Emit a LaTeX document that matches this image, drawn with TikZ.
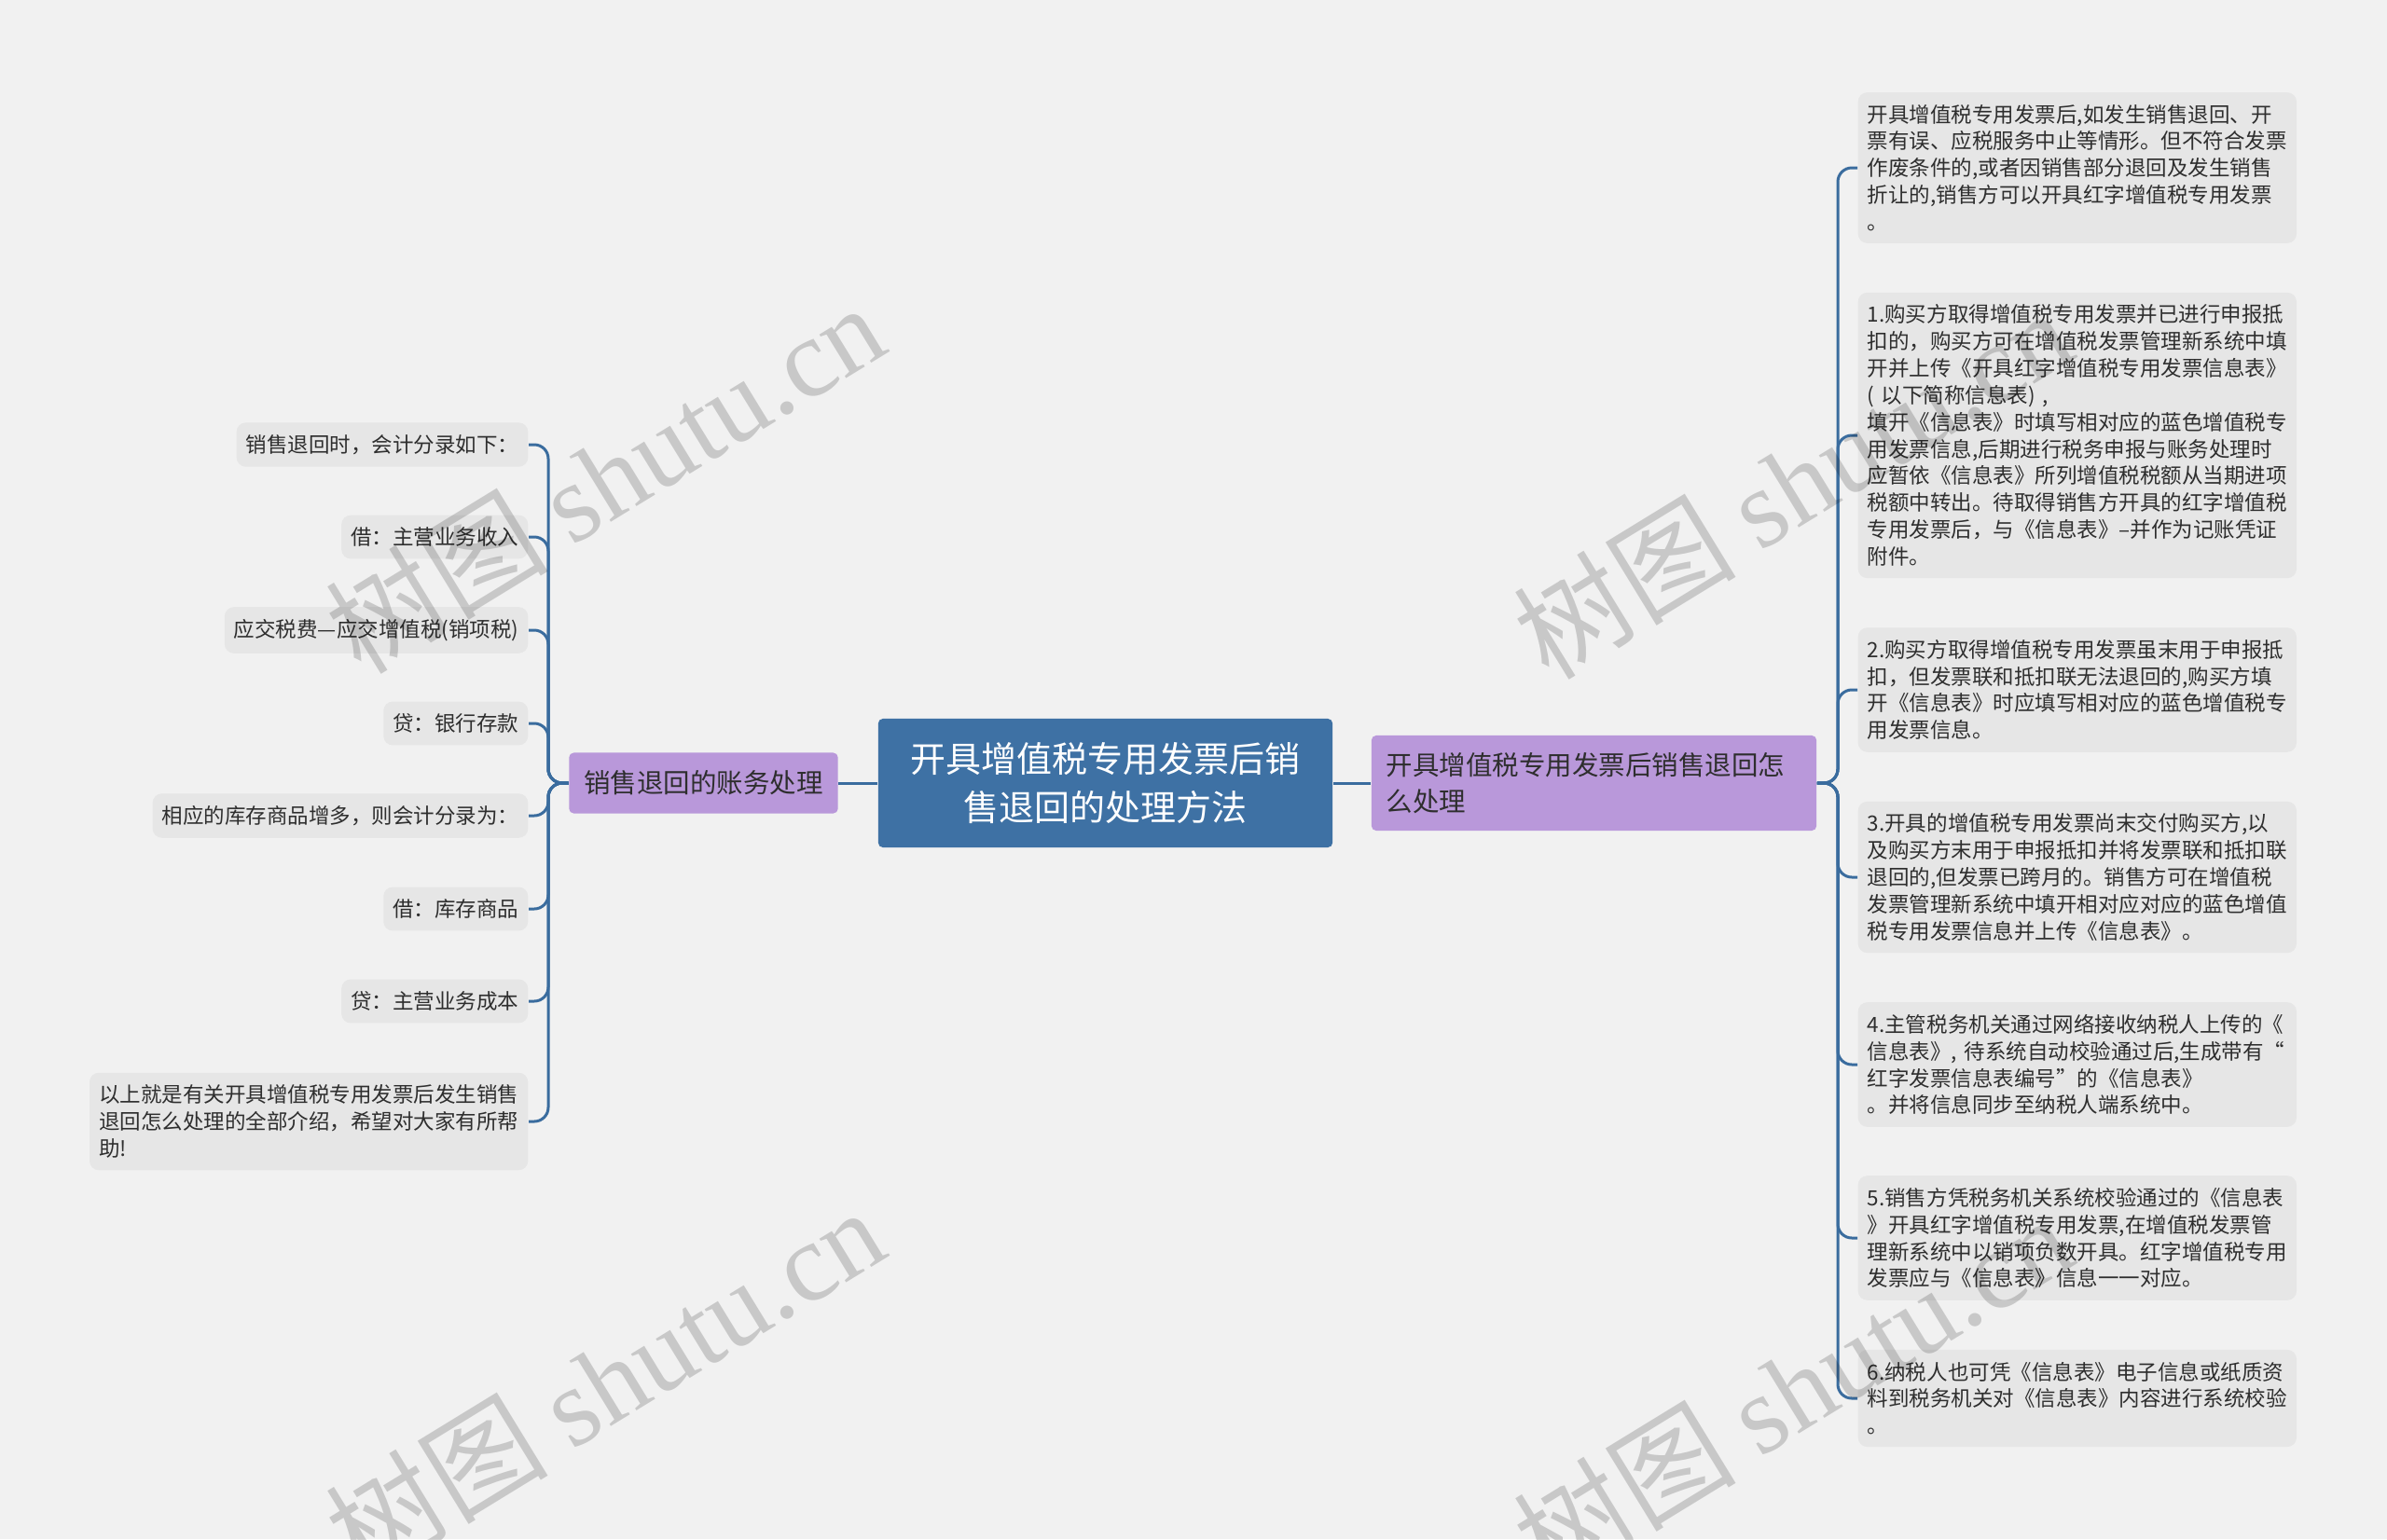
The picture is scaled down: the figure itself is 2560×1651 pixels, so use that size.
\documentclass[tikz,border=0pt]{standalone}
\usepackage{fontspec}
\setmainfont{Noto Sans CJK SC}
\newfontfamily\stampserif{Liberation Serif}
\definecolor{paper}{HTML}{F1F1F1}
\definecolor{leaffill}{HTML}{E6E6E6}
\definecolor{rootblue}{HTML}{3E71A4}
\definecolor{linkblue}{HTML}{3A6C9E}
\definecolor{lilac}{HTML}{B998DA}
\definecolor{ink}{HTML}{2E2E2E}

\begin{document}
\begin{tikzpicture}[
  x=0.01cm, y=-0.01cm,
  root/.style={fill=rootblue,text=white,rounded corners=0.05cm,align=center,
    minimum width=4.87cm,minimum height=1.38cm,font=\fontsize{10.8pt}{14.8pt}\selectfont},
  branch/.style={fill=lilac,text=ink,rounded corners=0.05cm,inner sep=0.16cm,
    font=\fontsize{8.1pt}{11.1pt}\selectfont},
  leaf/.style={fill=leaffill,text=ink,rounded corners=0.1cm,inner xsep=0.1cm,inner ysep=0.13cm,
    font=\fontsize{6.4pt}{8.2pt}\selectfont},
  para/.style={text width=4.5cm,align=left},
  link/.style={draw=linkblue,line width=0.03cm,rounded corners=0.15cm},
  stamp/.style={rotate=31.5,text=black,opacity=0.17,font=\fontsize{34pt}{34pt}\selectfont}
]
  \fill[paper] (0,0) rectangle (2560,1651);
  \useasboundingbox (0,0) rectangle (2560,1651);

  % Centre and the two branches.
  \node[root] (root) at (1185.5,840) {开具增值税专用发票后销\\售退回的处理方法};
  \node[branch,minimum width=2.87cm,minimum height=0.65cm] (lb) at (754.5,840) {销售退回的账务处理};
  \node[branch,text width=4.45cm,align=left,minimum height=1.02cm] (rb) at (1709.5,840)
    {开具增值税专用发票后销售退回怎\\么处理};
  \coordinate (lbus) at (588,840);
  \coordinate (rbus) at (1971,840);

  % Left leaves.
  \node[leaf,anchor=east] (l1) at (567,477) {销售退回时，会计分录如下：};
  \node[leaf,anchor=east] (l2) at (567,576) {借：主营业务收入};
  \node[leaf,anchor=east] (l3) at (567,676) {应交税费—应交增值税(销项税)};
  \node[leaf,anchor=east] (l4) at (567,776) {贷：银行存款};
  \node[leaf,anchor=east] (l5) at (567,875) {相应的库存商品增多，则会计分录为：};
  \node[leaf,anchor=east] (l6) at (567,975) {借：库存商品};
  \node[leaf,anchor=east] (l7) at (567,1074) {贷：主营业务成本};
  \node[leaf,para,anchor=east] (l8) at (567,1203)
    {以上就是有关开具增值税专用发票后发生销售\\退回怎么处理的全部介绍，希望对大家有所帮\\助!};

  % Right leaves.
  \node[leaf,para,anchor=west] (r1) at (1992,180)
    {开具增值税专用发票后,如发生销售退回、开\\票有误、应税服务中止等情形。但不符合发票\\作废条件的,或者因销售部分退回及发生销售\\折让的,销售方可以开具红字增值税专用发票\\。};
  \node[leaf,para,anchor=west] (r2) at (1992,467)
    {1.购买方取得增值税专用发票并已进行申报抵\\扣的，购买方可在增值税发票管理新系统中填\\开并上传《开具红字增值税专用发票信息表》\\( 以下简称信息表) ,\\填开《信息表》时填写相对应的蓝色增值税专\\用发票信息,后期进行税务申报与账务处理时\\应暂依《信息表》所列增值税税额从当期进项\\税额中转出。待取得销售方开具的红字增值税\\专用发票后，与《信息表》–并作为记账凭证\\附件。};
  \node[leaf,para,anchor=west] (r3) at (1992,740)
    {2.购买方取得增值税专用发票虽末用于申报抵\\扣，但发票联和抵扣联无法退回的,购买方填\\开《信息表》时应填写相对应的蓝色增值税专\\用发票信息。};
  \node[leaf,para,anchor=west] (r4) at (1992,941)
    {3.开具的增值税专用发票尚末交付购买方,以\\及购买方末用于申报抵扣并将发票联和抵扣联\\退回的,但发票已跨月的。销售方可在增值税\\发票管理新系统中填开相对应对应的蓝色增值\\税专用发票信息并上传《信息表》。};
  \node[leaf,para,anchor=west] (r5) at (1992,1142)
    {4.主管税务机关通过网络接收纳税人上传的《\\信息表》, 待系统自动校验通过后,生成带有“\\红字发票信息表编号”的《信息表》\\。并将信息同步至纳税人端系统中。};
  \node[leaf,para,anchor=west] (r6) at (1992,1328)
    {5.销售方凭税务机关系统校验通过的《信息表\\》开具红字增值税专用发票,在增值税发票管\\理新系统中以销项负数开具。红字增值税专用\\发票应与《信息表》信息一一对应。};
  \node[leaf,para,anchor=west] (r7) at (1992,1500)
    {6.纳税人也可凭《信息表》电子信息或纸质资\\料到税务机关对《信息表》内容进行系统校验\\。};

  % Connectors.
  \draw[link] (root.west) -- (lb.east);
  \draw[link] (root.east) -- (rb.west);
  \draw[link] (lb.west) -- (lbus) |- (l1.east);
  \draw[link] (lb.west) -- (lbus) |- (l2.east);
  \draw[link] (lb.west) -- (lbus) |- (l3.east);
  \draw[link] (lb.west) -- (lbus) |- (l4.east);
  \draw[link] (lb.west) -- (lbus) |- (l5.east);
  \draw[link] (lb.west) -- (lbus) |- (l6.east);
  \draw[link] (lb.west) -- (lbus) |- (l7.east);
  \draw[link] (lb.west) -- (lbus) |- (l8.east);
  \draw[link] (rb.east) -- (rbus) |- (r1.west);
  \draw[link] (rb.east) -- (rbus) |- (r2.west);
  \draw[link] (rb.east) -- (rbus) |- (r3.west);
  \draw[link] (rb.east) -- (rbus) |- (r4.west);
  \draw[link] (rb.east) -- (rbus) |- (r5.west);
  \draw[link] (rb.east) -- (rbus) |- (r6.west);
  \draw[link] (rb.east) -- (rbus) |- (r7.west);

  % Watermarks.
  \begin{scope}
    \clip (0,0) rectangle (2560,1651);
    \node[stamp] (w1) at (648,512) {树图 {\stampserif shutu.cn}};
    \node[stamp] (w2) at (1922,518) {树图 {\stampserif shutu.cn}};
    \node[stamp] (w3) at (648,1482) {树图 {\stampserif shutu.cn}};
    \node[stamp] (w4) at (1922,1490) {树图 {\stampserif shutu.cn}};
  \end{scope}
\end{tikzpicture}
\end{document}
